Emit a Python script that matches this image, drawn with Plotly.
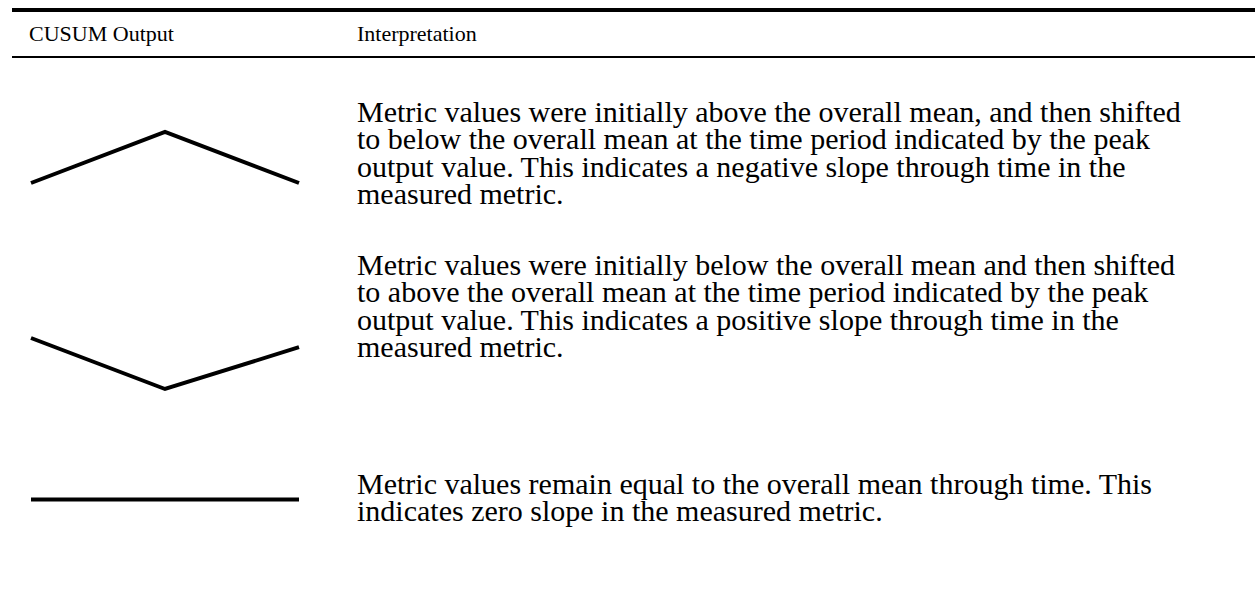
import plotly.graph_objects as go

W, H = 1255, 590

# column headers
headers = ["CUSUM Output", "Interpretation"]

# schematic CUSUM outputs (time step vs cumulative sum)
time = [0, 1, 2]
cusum_peak = [0, 1, 0]
cusum_valley = [1, 0, 0.82]
cusum_flat = [0, 0, 0]

# interpretation text, one list of lines per row
interpretations = [
    ["Metric values were initially above the overall mean, and then shifted",
     "to below the overall mean at the time period indicated by the peak",
     "output value. This indicates a negative slope through time in the",
     "measured metric."],
    ["Metric values were initially below the overall mean and then shifted",
     "to above the overall mean at the time period indicated by the peak",
     "output value. This indicates a positive slope through time in the",
     "measured metric."],
    ["Metric values remain equal to the overall mean through time. This",
     "indicates zero slope in the measured metric."],
]

FONT = "Liberation Serif, Times New Roman, serif"


def px(x):
    return x / W


def py(y):
    return 1 - y / H


fig = go.Figure()

# each glyph gets its own small axis pair: (series, y range, top px, bottom px)
glyphs = [
    (cusum_peak, [0, 1], 132, 183),
    (cusum_valley, [0, 1], 338, 389),
    (cusum_flat, [-1, 1], 479, 520),
]
x0_px, x1_px = 31, 299
pad = 0.06
unit = (x1_px - x0_px) / 2

for i, (vals, yr, top, bot) in enumerate(glyphs, start=1):
    fig.add_trace(go.Scatter(
        x=time, y=vals, mode="lines",
        line=dict(color="black", width=4),
        xaxis=f"x{i}", yaxis=f"y{i}",
        hoverinfo="skip", showlegend=False,
    ))
    ypad = 0.06 * (yr[1] - yr[0])
    ppu = (bot - top) / (yr[1] - yr[0])
    fig.layout[f"xaxis{i}" if i > 1 else "xaxis"] = dict(
        domain=[px(x0_px - pad * unit), px(x1_px + pad * unit)],
        range=[-pad, 2 + pad], visible=False, fixedrange=True,
        anchor=f"y{i}",
    )
    fig.layout[f"yaxis{i}" if i > 1 else "yaxis"] = dict(
        domain=[py(bot + ypad * ppu), py(top - ypad * ppu)],
        range=[yr[0] - ypad, yr[1] + ypad], visible=False, fixedrange=True,
        anchor=f"x{i}",
    )

# table rules
fig.add_shape(type="line", xref="paper", yref="paper",
              x0=px(12), x1=1, y0=py(10), y1=py(10),
              line=dict(color="black", width=4))
fig.add_shape(type="line", xref="paper", yref="paper",
              x0=px(12), x1=1, y0=py(57), y1=py(57),
              line=dict(color="black", width=2))

# headers
for txt, x in zip(headers, [27, 355]):
    fig.add_annotation(text=txt, x=px(x), y=py(33), xref="paper", yref="paper",
                       xanchor="left", yanchor="middle", showarrow=False,
                       font=dict(family=FONT, size=22, color="black"))

# row texts, placed line by line (tight leading)
line_pitch = 27.5
for lines, first in zip(interpretations, [111, 264, 483]):
    for k, txt in enumerate(lines):
        fig.add_annotation(text=txt, x=px(355), y=py(first + k * line_pitch),
                           xref="paper", yref="paper",
                           xanchor="left", yanchor="middle", showarrow=False,
                           font=dict(family=FONT, size=30, color="black"))

fig.update_layout(
    width=W, height=H,
    margin=dict(l=0, r=0, t=0, b=0),
    paper_bgcolor="white", plot_bgcolor="white",
)

fig.write_html("out.html", config={"displayModeBar": False},
               post_script="document.body.style.margin='0';")
